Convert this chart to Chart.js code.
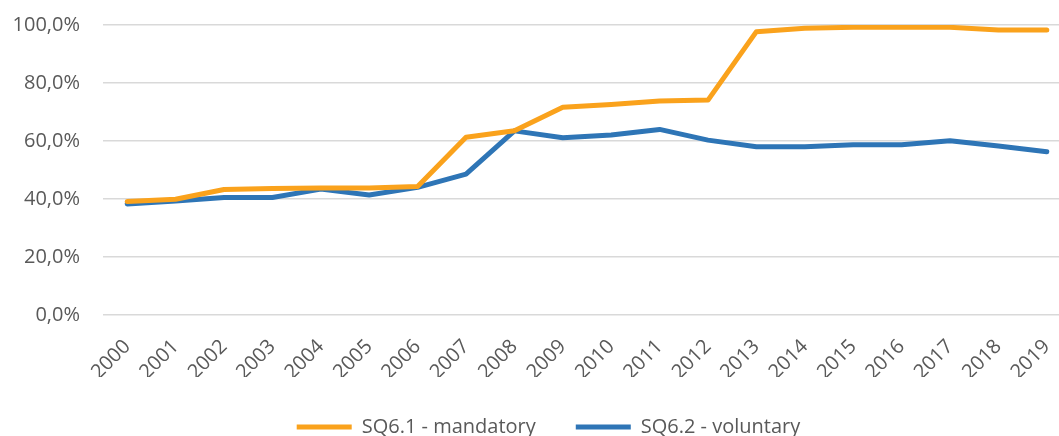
<!DOCTYPE html>
<html>
<head>
<meta charset="utf-8">
<script src="https://cdn.jsdelivr.net/npm/chart.js@4/dist/chart.umd.min.js"></script>
<style>
    html, body { margin: 0; padding: 0; background: #fff; overflow: hidden; }
    #wrap { width: 1059px; height: 436px; overflow: hidden; }
</style>
</head>
<body>
<div id="wrap"><canvas id="chart" width="1100" height="447"></canvas></div>
<script>
// Data (percent)
const years = ['2000', '2001', '2002', '2003', '2004', '2005', '2006', '2007', '2008', '2009',
    '2010', '2011', '2012', '2013', '2014', '2015', '2016', '2017', '2018', '2019'];
const mandatory = [39.1, 39.9, 43.3, 43.6, 43.8, 43.8, 44.3, 61.3, 63.5, 71.6,
    72.6, 73.8, 74.1, 97.7, 98.9, 99.2, 99.2, 99.2, 98.3, 98.3];
const voluntary = [38.3, 39.3, 40.5, 40.5, 43.4, 41.4, 44.0, 48.6, 63.5, 61.1,
    62.1, 64.0, 60.3, 58.0, 58.0, 58.7, 58.7, 60.1, 58.3, 56.3];
const yTicks = [0, 20, 40, 60, 80, 100];

// Style
const textColor = '#595959';
const gridColor = '#D9D9D9';
const colorMandatory = '#FAA21C';
const colorVoluntary = '#2E75B6';
const fontFamily = "'Open Sans', sans-serif";

function formatPercent(v) {
    return v.toFixed(1).replace('.', ',') + '%';
}

// nudge the legend a little to the right, like the original
const legendShift = {
    id: 'legendShift',
    afterLayout(chart) {
        if (chart.legend) chart.legend.left += 26;
    }
};

const ctx = document.getElementById('chart').getContext('2d');

Chart.defaults.color = textColor;
Chart.defaults.font.family = fontFamily;

new Chart(ctx, {
    type: 'line',
    data: {
        labels: years,
        datasets: [
            {
                label: 'SQ6.1 - mandatory',
                data: mandatory,
                borderColor: colorMandatory,
                backgroundColor: colorMandatory,
                borderWidth: 5,
                borderCapStyle: 'round',
                borderJoinStyle: 'round',
                pointRadius: 0,
                tension: 0
            },
            {
                label: 'SQ6.2 - voluntary',
                data: voluntary,
                borderColor: colorVoluntary,
                backgroundColor: colorVoluntary,
                borderWidth: 5,
                borderCapStyle: 'round',
                borderJoinStyle: 'round',
                pointRadius: 0,
                tension: 0
            }
        ]
    },
    options: {
        responsive: false,
        animation: false,
        layout: {
            padding: { top: 25, right: 29, left: 0, bottom: 0 }
        },
        scales: {
            x: {
                offset: true,
                grid: { display: false },
                border: { display: false },
                ticks: {
                    minRotation: 45,
                    maxRotation: 45,
                    padding: 12,
                    font: { size: 20 },
                    color: textColor
                },
                afterFit: (scale) => { scale.height = 62; }
            },
            y: {
                min: 0,
                max: 100,
                afterBuildTicks: (scale) => {
                    scale.ticks = yTicks.map(v => ({ value: v }));
                },
                grid: {
                    color: gridColor,
                    lineWidth: 1.5,
                    drawTicks: false
                },
                border: { display: false },
                ticks: {
                    padding: 23,
                    font: { size: 20 },
                    color: textColor,
                    callback: (value) => formatPercent(value)
                },
                afterFit: (scale) => {
                    scale.width = 103;
                    scale.paddingTop = 0;
                    scale.paddingBottom = 0;
                }
            }
        },
        plugins: {
            legend: {
                position: 'bottom',
                labels: {
                    usePointStyle: true,
                    pointStyle: 'line',
                    pointStyleWidth: 55,
                    padding: 40,
                    font: { size: 20 },
                    color: textColor
                }
            },
            tooltip: { enabled: false }
        }
    },
    plugins: [legendShift]
});
</script>
</body>
</html>
